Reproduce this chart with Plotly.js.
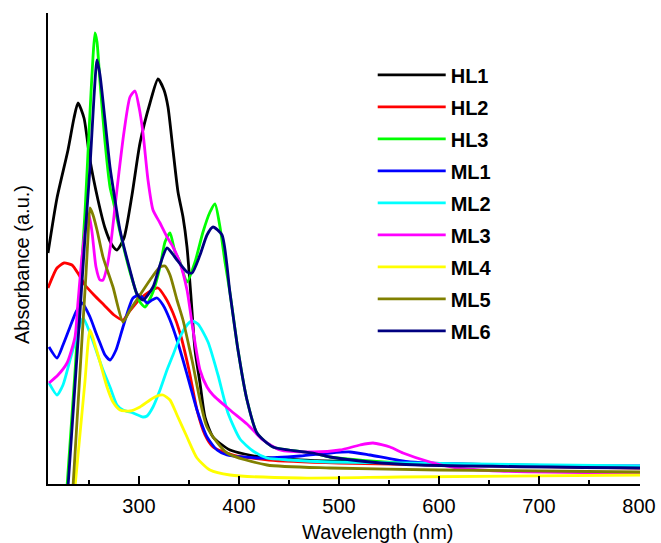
<!DOCTYPE html>
<html>
<head>
<meta charset="utf-8">
<script src="https://cdn.plot.ly/plotly-3.0.1.min.js"></script>
<style>html,body{margin:0;padding:0;background:#fff;}#chart{width:661px;height:543px;}</style>
</head>
<body>
<div id="chart"></div>
<script>
// Series names and colours
var seriesNames = ["HL1","HL2","HL3","ML1","ML2","ML3","ML4","ML5","ML6"];
var seriesColors = ["#000000","#ff0000","#00ff00","#0000ff","#00ffff","#ff00ff","#ffff00","#808000","#000080"];

// Wavelength (nm) / absorbance (a.u.)
var wl_HL1 = [209,218,229,235,239,245,251,259,266,273,278,285,293,301,311,319,325,329,334,339,344,348,352,356,361,366,374,391,421,461,561,801];
var ab_HL1 = [2.34,2.89,3.37,3.69,3.84,3.69,3.27,2.87,2.59,2.42,2.37,2.49,2.92,3.44,3.84,4.08,3.97,3.80,3.37,2.95,2.70,2.40,1.90,1.37,1.04,0.70,0.50,0.37,0.30,0.27,0.24,0.20];

var wl_HL2 = [209,218,225,233,240,246,255,265,275,284,290,300,310,319,326,334,341,350,358,366,374,394,430,500,600,801];
var ab_HL2 = [1.99,2.19,2.24,2.22,2.12,2.02,1.92,1.82,1.72,1.67,1.75,1.87,1.95,1.99,1.90,1.74,1.54,1.17,0.77,0.52,0.40,0.32,0.27,0.24,0.22,0.19];

var wl_HL3 = [225,228,236,241,246,251,254,256,258,261,266,271,274,281,291,301,306,314,321,326,331,336,341,348,356,364,371,376,381,386,391,399,408,418,434,474,491,531,581,801];
var ab_HL3 = [-0.50,0.00,1.15,1.95,2.75,3.75,4.30,4.54,4.45,4.05,3.45,3.00,2.87,2.55,2.15,1.85,1.80,1.95,2.20,2.45,2.54,2.35,2.25,2.05,2.25,2.55,2.75,2.83,2.60,2.25,1.94,1.37,0.87,0.54,0.40,0.34,0.30,0.26,0.23,0.20];

var wl_ML1 = [210,218,224,231,237,243,251,257,261,266,271,277,284,294,301,308,313,318,324,331,338,344,351,358,368,378,388,421,461,491,511,531,571,661,801];
var ab_ML1 = [1.40,1.29,1.42,1.60,1.75,1.84,1.70,1.54,1.44,1.32,1.27,1.37,1.60,1.89,1.92,1.84,1.87,1.89,1.82,1.67,1.47,1.27,1.02,0.77,0.50,0.37,0.32,0.29,0.31,0.34,0.35,0.32,0.25,0.22,0.21];

var wl_ML2 = [210,218,224,231,238,244,251,258,264,271,278,284,294,304,308,314,321,328,334,341,348,353,359,369,379,389,401,414,428,451,491,801];
var ab_ML2 = [1.04,0.92,1.02,1.27,1.52,1.69,1.54,1.34,1.17,1.00,0.82,0.77,0.74,0.70,0.71,0.80,0.97,1.17,1.32,1.50,1.62,1.66,1.63,1.45,1.12,0.74,0.48,0.36,0.29,0.27,0.25,0.21];

var wl_ML3 = [210,219,228,236,239,243,247,250,253,257,261,264,268,272,276,280,285,291,296,300,304,309,314,321,328,334,341,348,354,361,368,374,391,408,424,441,474,501,521,534,551,564,591,618,661,801];
var ab_ML3 = [1.04,1.12,1.24,1.50,1.85,2.30,2.62,2.72,2.55,2.20,2.07,2.07,2.20,2.45,2.80,3.15,3.55,3.90,3.96,3.80,3.54,3.07,2.77,2.64,2.50,2.40,2.24,1.97,1.57,1.17,1.00,0.92,0.77,0.63,0.47,0.37,0.35,0.37,0.42,0.44,0.40,0.34,0.25,0.19,0.16,0.14];

var wl_ML4 = [232,236,241,246,251,256,261,268,274,281,291,301,311,318,324,331,338,348,358,371,391,461,561,801];
var ab_ML4 = [-0.42,0.00,0.53,1.06,1.57,1.42,1.25,1.00,0.85,0.77,0.76,0.80,0.87,0.91,0.92,0.87,0.72,0.50,0.29,0.17,0.12,0.09,0.10,0.12];

var wl_ML5 = [230,234,239,243,247,249,251,254,258,264,274,284,291,301,311,321,326,331,338,344,353,368,388,428,491,600,801];
var ab_ML5 = [-0.65,0.00,0.82,1.48,2.13,2.50,2.79,2.72,2.57,2.30,2.00,1.65,1.77,1.92,2.07,2.20,2.21,2.12,1.87,1.67,1.27,0.60,0.34,0.22,0.19,0.17,0.15];

var wl_ML6 = [226,229,236,241,246,251,255,258,261,266,271,276,281,291,298,304,314,321,328,338,348,353,361,368,374,383,391,399,408,418,434,474,491,531,581,801];
var ab_ML6 = [-0.45,0.00,1.02,1.75,2.50,3.20,3.90,4.27,4.12,3.67,3.20,2.87,2.57,2.17,1.93,1.87,2.00,2.22,2.39,2.27,2.15,2.14,2.32,2.52,2.60,2.52,1.94,1.37,0.87,0.54,0.40,0.34,0.30,0.25,0.22,0.19];

var xTickVals = [300,400,500,600,700,800];
var xTickText = ["300","400","500","600","700","800"];
var xMinorVals = [250,350,450,550,650,750];

var wls = [wl_HL1,wl_HL2,wl_HL3,wl_ML1,wl_ML2,wl_ML3,wl_ML4,wl_ML5,wl_ML6];
var abs = [ab_HL1,ab_HL2,ab_HL3,ab_ML1,ab_ML2,ab_ML3,ab_ML4,ab_ML5,ab_ML6];

var FONT = "Arial, 'Liberation Sans', Helvetica, sans-serif";
var traces = seriesNames.map(function(n,i){
  return {
    type:"scatter", mode:"lines", name:n, x:wls[i], y:abs[i],
    legendgroup:n,
    line:{color:seriesColors[i], width:2.8, shape:"spline", smoothing:0.6}
  };
});

var layout = {
  width:661, height:543,
  margin:{l:48, r:21, t:13, b:59},
  paper_bgcolor:"#fff", plot_bgcolor:"#fff",
  showlegend:true,
  legend:{
    x:0.5485, y:0.91, xanchor:"left", yanchor:"top",
    font:{family:FONT, size:20, color:"#000", weight:"bold"},
    tracegroupgap:3, itemwidth:68, bgcolor:"rgba(0,0,0,0)"
  },
  xaxis:{
    range:[209,801], showline:true, linecolor:"#000", linewidth:2,
    ticks:"inside", ticklen:8, tickwidth:1.5, tickcolor:"#000",
    tickvals:xTickVals, ticktext:xTickText, ticklabelstandoff:3,
    minor:{tickvals:xMinorVals, ticks:"inside", ticklen:4, tickwidth:1.5, tickcolor:"#000"},
    showgrid:false, zeroline:false,
    tickfont:{family:FONT, size:20, color:"#000"}
  },
  yaxis:{
    range:[0.03,4.74], showline:true, linecolor:"#000", linewidth:2,
    ticks:"", showticklabels:false, showgrid:false, zeroline:false
  },
  annotations:[
    {text:"Wavelength (nm)", xref:"paper", yref:"paper", x:0.558, y:-0.102,
     xanchor:"center", yanchor:"middle", showarrow:false,
     font:{family:FONT, size:20, color:"#000"}},
    {text:"Absorbance (a.u.)", xref:"paper", yref:"paper", x:-0.044, y:0.467,
     xanchor:"center", yanchor:"middle", textangle:-90, showarrow:false,
     font:{family:FONT, size:20, color:"#000"}}
  ]
};

Plotly.newPlot("chart", traces, layout, {staticPlot:true, displayModeBar:false});
</script>
</body>
</html>
